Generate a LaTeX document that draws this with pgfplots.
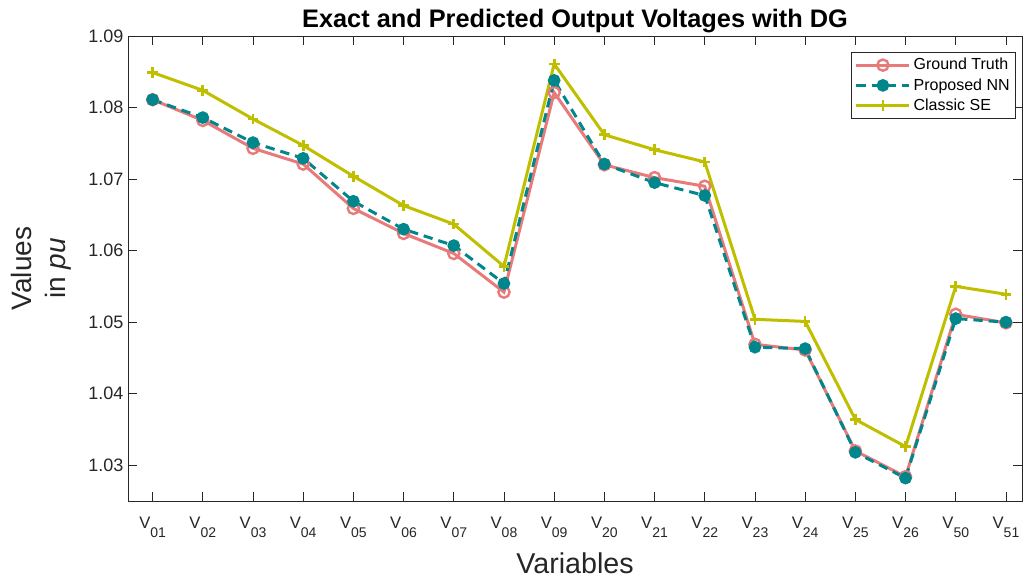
\documentclass[border=0pt]{standalone}
\usepackage{pgfplots}
\pgfplotsset{compat=1.18}
\usepackage{fontspec}
\setmainfont{Liberation Sans}
\definecolor{gtpink}{RGB}{232,122,122}
\definecolor{nnteal}{RGB}{0,134,139}
\definecolor{seolive}{RGB}{191,191,0}
\definecolor{axgray}{RGB}{38,38,38}
% V with a MATLAB-like lowered subscript
\newcommand{\vs}[1]{V\raisebox{-7pt}{\fontsize{10.5pt}{12pt}\selectfont #1}}
\begin{document}
\begin{tikzpicture}
\useasboundingbox (-96pt,-57.75pt) rectangle (671.25pt,375.75pt);
\begin{axis}[
  at={(0,0)}, anchor=south west,
  scale only axis,
  width=670.5pt, height=348.75pt,
  xmin=-0.49, xmax=17.32,
  ymin=1.025, ymax=1.09,
  xtick={0,...,17},
  xticklabels={\vs{01},\vs{02},\vs{03},\vs{04},\vs{05},\vs{06},\vs{07},\vs{08},\vs{09},\vs{20},\vs{21},\vs{22},\vs{23},\vs{24},\vs{25},\vs{26},\vs{50},\vs{51}},
  ytick={1.03,1.04,...,1.09},
  yticklabel style={/pgf/number format/.cd,fixed,fixed zerofill,precision=2,assume math mode=true},
  tick align=inside,
  major tick length=6.5pt,
  axis line style={axgray, line width=0.6pt},
  every tick/.style={axgray, line width=0.6pt},
  tick label style={font=\fontsize{13.5pt}{16pt}\selectfont, text=axgray},
  xticklabel style={font=\fontsize{12.5pt}{14pt}\selectfont, anchor=base, yshift=-20.25pt},
  title={\textbf{Exact and Predicted Output Voltages with DG}},
  title style={font=\fontsize{19pt}{22pt}\selectfont, at={(0.5,1)}, anchor=base, yshift=0.75pt},
  xlabel={Variables},
  ylabel={Values\\in \textit{pu}},
  xlabel style={font=\fontsize{21.5pt}{24pt}\selectfont, text=axgray, at={(0.5,0)}, anchor=base, yshift=-54pt},
  ylabel style={font=\fontsize{21pt}{25.5pt}\selectfont, text=axgray, align=center, at={(0,0.5)}, anchor=center, yshift=65pt},
  legend style={at={(1,1)}, anchor=north east, xshift=-4.5pt, yshift=-12pt,
    font=\fontsize{12pt}{14pt}\selectfont, draw=axgray, line width=0.5pt,
    row sep=1pt, inner sep=2.5pt},
  legend cell align=left,
  legend image post style={line width=2.25pt},
  legend image code/.code={\draw[#1] (0cm,0cm) -- (1.4cm,0cm); \draw[#1,mark repeat=2,mark phase=2] plot coordinates {(0cm,0cm) (0.7cm,0cm) (1.4cm,0cm)};},
]
\addplot[color=gtpink, line width=2.25pt, mark=o, mark size=4.2pt, mark options={solid, line width=1.8pt}] coordinates {
(0,1.0811) (1,1.0782) (2,1.0743) (3,1.0721) (4,1.0659) (5,1.0624) (6,1.0596) (7,1.0542) (8,1.0821)
(9,1.0720) (10,1.0702) (11,1.0690) (12,1.0469) (13,1.0461) (14,1.0320) (15,1.0284) (16,1.0511) (17,1.0499)};
\addlegendentry{Ground Truth}
\addplot[color=nnteal, line width=2.25pt, dash pattern=on 7pt off 4.5pt, mark=*, mark size=3.6pt, mark options={solid}] coordinates {
(0,1.0811) (1,1.0786) (2,1.0751) (3,1.0729) (4,1.0669) (5,1.0630) (6,1.0607) (7,1.0554) (8,1.0838)
(9,1.0721) (10,1.0695) (11,1.0677) (12,1.0465) (13,1.0463) (14,1.0318) (15,1.0282) (16,1.0505) (17,1.0500)};
\addlegendentry{Proposed NN}
\addplot[color=seolive, line width=2.25pt, mark=+, mark size=4pt, mark options={solid, line width=2pt}] coordinates {
(0,1.0849) (1,1.0824) (2,1.0784) (3,1.0747) (4,1.0704) (5,1.0663) (6,1.0637) (7,1.0578) (8,1.0861)
(9,1.0762) (10,1.0741) (11,1.0724) (12,1.0504) (13,1.0501) (14,1.0364) (15,1.0326) (16,1.0550) (17,1.0539)};
\addlegendentry{Classic SE}
\end{axis}
\end{tikzpicture}
\end{document}
